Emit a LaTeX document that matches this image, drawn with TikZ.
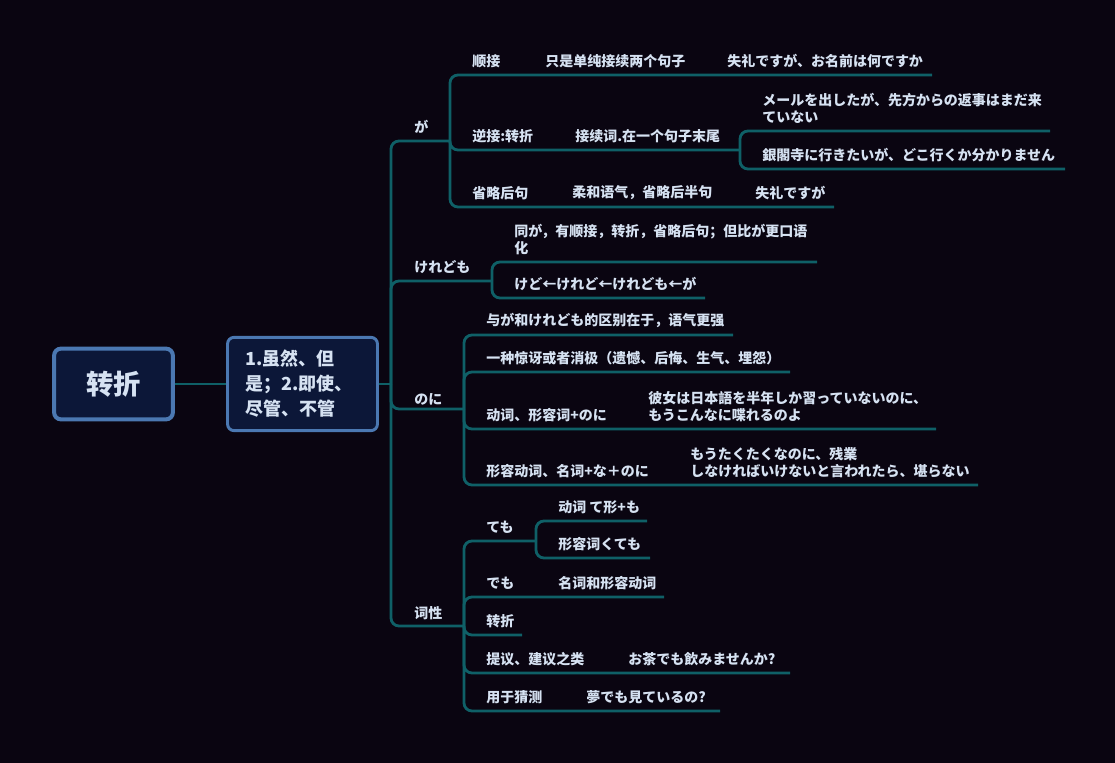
\documentclass[tikz,border=0pt]{standalone}
\usepackage{fontspec}
\setmainfont{Noto Sans CJK SC}
\usepackage{xcolor}
\definecolor{bgdark}{HTML}{0A0511}
\definecolor{lineteal}{HTML}{0F6067}
\definecolor{txtlight}{HTML}{D6E2F2}
\definecolor{boxfill}{HTML}{0C1738}
\definecolor{boxedge}{HTML}{4B78B2}
\begin{document}
\begin{tikzpicture}[
  x=0.75pt, y=-0.75pt,
  branch/.style={draw=lineteal, line width=2.1pt, rounded corners=6pt},
  leaf/.style={anchor=south west, inner sep=0pt, yshift=-1.5pt, text=txtlight, align=left,
    font=\fontsize{10.5}{12.75}\selectfont\bfseries},
  topic/.style={draw=boxedge, fill=boxfill, rounded corners=5pt, text=txtlight},
]
  \fill[bgdark] (0,0) rectangle (1115,763);
  \useasboundingbox (0,0) rectangle (1115,763);

  % centre topics
  \node[topic, line width=3pt, minimum width=89pt, minimum height=53pt,
    font=\fontsize{20.5}{24}\selectfont\bfseries] (root) at (113.5,384) {转折};
  \node[topic, line width=2.2pt, minimum width=112.5pt, minimum height=70pt,
    text width=86pt, align=left, font=\fontsize{13.5}{18.75}\selectfont\bfseries]
    (sub) at (302.5,384) {1.虽然、但\\是；2.即使、\\尽管、不管};
  \coordinate (hub) at (391,384);
  \draw[branch] (root) -- (sub);
  \draw[branch] (sub.east) -- (hub);

  % junctions
  \coordinate (ga) at (450,141);
  \coordinate (kd) at (492,281);
  \coordinate (noni) at (464,409);
  \coordinate (cixing) at (464,626);
  \coordinate (nijie) at (740,150);
  \coordinate (temo) at (536,541);
  \foreach \c in {ga, kd, noni, cixing}
    \draw[branch] (hub) |- (\c);

  % が
  \node[leaf] (ga-t) at (414,132) {が};
  \coordinate (shunjie-e) at (932,75);
  \coordinate (mail-e) at (1050,131);
  \coordinate (ginkaku-e) at (1065,169);
  \coordinate (shenglue-e) at (834,207);
  \foreach \e in {shunjie-e, nijie, shenglue-e}
    \draw[branch] (ga) |- (\e);
  \foreach \e in {mail-e, ginkaku-e}
    \draw[branch] (nijie) |- (\e);
  \node[leaf] (shunjie) at (472,66) {顺接};
  \node[leaf] (shunjie2) at (545,66) {只是单纯接续两个句子};
  \node[leaf] (shunjie3) at (727,66) {失礼ですが、お名前は何ですか};
  \node[leaf] (nijie-t) at (472,141) {逆接:转折};
  \node[leaf] (nijie2) at (575,141) {接续词.在一个句子末尾};
  \node[leaf] (mail) at (762,122) {メールを出したが、先方からの返事はまだ来\\ていない};
  \node[leaf] (ginkaku) at (762,160) {銀閣寺に行きたいが、どこ行くか分かりません};
  \node[leaf] (shenglue) at (472,198) {省略后句};
  \node[leaf] (shenglue2) at (572,198) {柔和语气，省略后半句};
  \node[leaf] (shenglue3) at (755,198) {失礼ですが};

  % けれども
  \node[leaf] (kd-t) at (414,272) {けれども};
  \coordinate (kd1-e) at (817,262);
  \coordinate (kd2-e) at (705,298);
  \foreach \e in {kd1-e, kd2-e}
    \draw[branch] (kd) |- (\e);
  \node[leaf] (kd1) at (514,253) {同が，有顺接，转折，省略后句；但比が更口语\\化};
  \node[leaf] (kd2) at (514,289) {けど←けれど←けれども←が};

  % のに
  \node[leaf] (noni-t) at (414,404) {のに};
  \coordinate (noni1-e) at (733,335);
  \coordinate (noni2-e) at (790,372);
  \coordinate (noni3-e) at (936,429);
  \coordinate (noni4-e) at (978,485);
  \foreach \e in {noni1-e, noni2-e, noni3-e, noni4-e}
    \draw[branch] (noni) |- (\e);
  \node[leaf] (noni1) at (486,326) {与が和けれども的区别在于，语气更强};
  \node[leaf] (noni2) at (486,363) {一种惊讶或者消极（遗憾、后悔、生气、埋怨）};
  \node[leaf] (noni3) at (486,420) {动词、形容词+のに};
  \node[leaf] (noni3b) at (648,420) {彼女は日本語を半年しか習っていないのに、\\もうこんなに喋れるのよ};
  \node[leaf] (noni4) at (486,476) {形容动词、名词+な＋のに};
  \node[leaf] (noni4b) at (690,476) {もうたくたくなのに、残業\\しなければいけないと言われたら、堪らない};

  % 词性
  \node[leaf] (cixing-t) at (414,618) {词性};
  \coordinate (temo1-e) at (647,521);
  \coordinate (temo2-e) at (650,558);
  \coordinate (demo-e) at (664,597);
  \coordinate (zhe-e) at (522,635);
  \coordinate (tiyi-e) at (790,673);
  \coordinate (caice-e) at (720,711);
  \foreach \e in {temo, demo-e, zhe-e, tiyi-e, caice-e}
    \draw[branch] (cixing) |- (\e);
  \foreach \e in {temo1-e, temo2-e}
    \draw[branch] (temo) |- (\e);
  \node[leaf] (temo-t) at (486,532) {ても};
  \node[leaf] (temo1) at (558,512) {动词 て形+も};
  \node[leaf] (temo2) at (558,549) {形容词くても};
  \node[leaf] (demo) at (486,588) {でも};
  \node[leaf] (demo2) at (558,588) {名词和形容动词};
  \node[leaf] (zhe) at (486,626) {转折};
  \node[leaf] (tiyi) at (486,664) {提议、建议之类};
  \node[leaf] (tiyi2) at (628,664) {お茶でも飲みませんか?};
  \node[leaf] (caice) at (486,702) {用于猜测};
  \node[leaf] (caice2) at (586,702) {夢でも見ているの?};
\end{tikzpicture}
\end{document}
